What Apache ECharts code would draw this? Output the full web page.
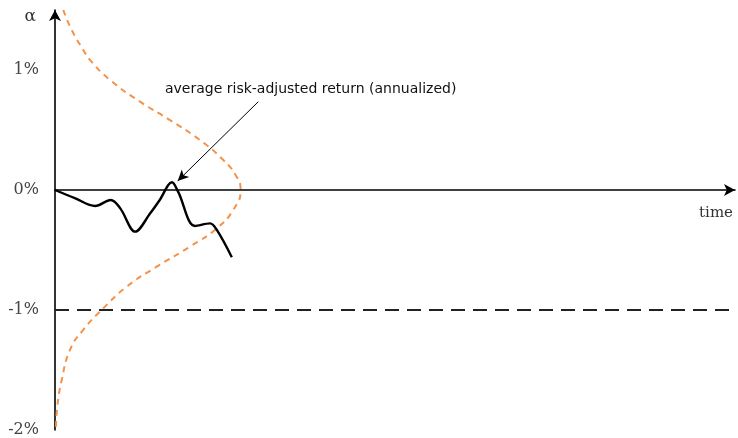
<!DOCTYPE html>
<html>
<head>
<meta charset="utf-8">
<script src="https://cdn.jsdelivr.net/npm/echarts@6/dist/echarts.min.js"></script>
<style>
    html, body { margin: 0; padding: 0; background: #fff; }
    #alpha-chart { width: 738px; height: 438px; }
</style>
</head>
<body>
<div id="alpha-chart"></div>
<script>
// time runs 0..100, alpha in percent
var timeRange = [0, 100];
var alphaRange = [-2, 1.5];
var yTicks = [-2, -1, 0, 1];
var floorLevel = -1;

// realised alpha path (time, alpha %)
var pathTime = [0, 3, 5.9, 8.2, 9.6, 11.8, 14.0, 15.4, 17.2, 18.1, 20.6, 22.8, 23.8, 26.0];
var pathAlpha = [0, -0.07, -0.133, -0.083, -0.153, -0.347, -0.194, -0.083, 0.064, -0.014, -0.30, -0.278, -0.333, -0.56];

// sideways distribution of alpha (density, alpha %)
var distDensity = [1.22, 2.46, 4.16, 5.15, 8.09, 12.5, 16.9, 21.3, 24.75, 26.7, 27.3, 26.2, 23.8, 19.85, 14.96, 10.54, 7.1, 4.12, 2.2, 0.99, 0.34, 0.15];
var distAlpha = [1.5, 1.333, 1.167, 1.083, 0.917, 0.736, 0.583, 0.417, 0.25, 0.111, 0, -0.167, -0.319, -0.472, -0.639, -0.806, -0.986, -1.167, -1.333, -1.583, -1.806, -1.972];

// annotation: text position, arrow start and arrow tip
var noteText = 'average risk-adjusted return (annualized)';
var notePos = [37.6, 0.842];
var arrowFrom = [29.9, 0.736];
var arrowTo = [18.04, 0.075];

function zipFn(xs, ys) {
    var arr = [];
    for (var i = 0; i < xs.length; i++) {
        arr.push([xs[i], ys[i]]);
    }
    return arr;
}

function alphaChart(id) {
    var myChart = echarts.init(document.getElementById(id));
    var serifFont = '"DejaVu Serif", "Liberation Serif", serif';

    var option = {
        animation: false,
        grid: {
            left: 55,
            right: 3,
            top: 10,
            bottom: 8
        },
        xAxis: {
            type: 'value',
            min: timeRange[0],
            max: timeRange[1],
            name: 'time',
            nameLocation: 'end',
            nameGap: -2,
            nameTextStyle: {
                fontFamily: serifFont,
                fontSize: 15,
                color: '#333',
                align: 'right',
                verticalAlign: 'top',
                padding: [16, 0, 0, 0]
            },
            axisLine: {
                onZero: true,
                symbol: ['none', 'arrow'],
                symbolSize: [9, 11],
                lineStyle: { color: '#000', width: 1.6 }
            },
            axisTick: { show: false },
            axisLabel: { show: false },
            splitLine: { show: false }
        },
        yAxis: {
            type: 'value',
            min: alphaRange[0],
            max: alphaRange[1],
            interval: 1,
            name: 'α',
            nameLocation: 'end',
            nameGap: 0,
            nameTextStyle: {
                fontFamily: serifFont,
                fontSize: 17,
                color: '#333',
                align: 'right',
                padding: [0, 19, -15, 0]
            },
            axisLine: {
                show: true,
                symbol: ['none', 'arrow'],
                symbolSize: [9, 11],
                lineStyle: { color: '#000', width: 1.6 }
            },
            axisTick: { show: false },
            axisLabel: {
                margin: 16,
                fontFamily: serifFont,
                fontSize: 16,
                color: '#444',
                showMaxLabel: false,
                formatter: function (v) {
                    return yTicks.indexOf(v) >= 0 ? v + '%' : '';
                }
            },
            splitLine: { show: false }
        },
        series: [{
            name: 'floor',
            type: 'line',
            symbol: 'none',
            silent: true,
            lineStyle: { color: '#222', width: 1.8, type: [14, 8] },
            data: [[timeRange[0], floorLevel], [timeRange[1], floorLevel]]
        }, {
            name: 'distribution',
            type: 'line',
            symbol: 'none',
            smooth: 0.5,
            silent: true,
            lineStyle: { color: '#f4924a', width: 2, type: [6, 5] },
            data: zipFn(distDensity, distAlpha)
        }, {
            name: 'alpha',
            type: 'line',
            symbol: 'none',
            smooth: 0.35,
            silent: true,
            lineStyle: { color: '#000', width: 2.4 },
            data: zipFn(pathTime, pathAlpha),
            markLine: {
                silent: true,
                symbol: ['none', 'arrow'],
                symbolSize: [8, 11],
                label: { show: false },
                lineStyle: { color: '#000', width: 1, type: 'solid' },
                data: [[{ coord: arrowFrom }, { coord: arrowTo }]]
            },
            markPoint: {
                silent: true,
                symbolSize: 0,
                label: {
                    show: true,
                    position: 'inside',
                    formatter: noteText,
                    fontFamily: '"DejaVu Sans", sans-serif',
                    fontSize: 14,
                    color: '#111'
                },
                data: [{ coord: notePos }]
            }
        }]
    };
    myChart.setOption(option);
    return myChart;
}

var chart = alphaChart('alpha-chart');
</script>
</body>
</html>
